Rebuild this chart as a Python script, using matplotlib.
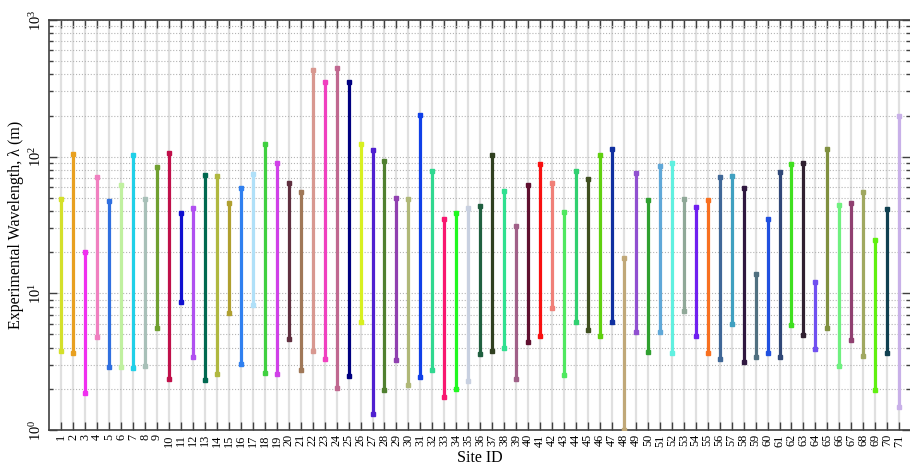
import matplotlib
matplotlib.use('Agg')
import matplotlib.pyplot as plt
from matplotlib.ticker import LogLocator, NullFormatter, FixedLocator

sites = list(range(1, 72))
lam_max = [48.8, 104, 20.0, 71.4, 47.1, 61.7, 103, 49.2, 84, 106,
           38.5, 42.1, 73.1, 72.6, 45.6, 59.0, 74.3, 124, 89.9, 63.8,
           55.1, 431, 354, 448, 350, 124, 111, 92.5, 49.6, 49.0,
           203, 78.9, 35.2, 38.5, 41.9, 43.3, 102, 55.8, 30.9, 61.7,
           87.9, 64.5, 39.2, 78.9, 68.6, 103, 114, 18.1, 75.5, 48.2,
           85.5, 89.9, 49.0, 42.8, 47.9, 71.0, 72.6, 58.7, 13.8, 34.8,
           77.2, 87.9, 89.4, 12.2, 114, 44.3, 45.8, 54.9, 24.7, 41.4, 199]
lam_min = [3.77, 3.68, 1.85, 4.82, 2.88, 2.90, 2.86, 2.96, 5.57, 2.38,
           8.69, 3.40, 2.32, 2.57, 7.18, 3.03, 8.26, 2.63, 2.57, 4.61,
           2.75, 3.77, 3.29, 2.04, 2.48, 6.20, 1.32, 1.95, 3.24, 2.12,
           2.45, 2.75, 1.74, 2.01, 2.28, 3.60, 3.77, 4.00, 2.35, 4.40,
           4.87, 7.81, 2.53, 6.17, 5.42, 4.87, 6.20, 1.0, 5.24, 3.74,
           5.21, 3.64, 7.43, 4.90, 3.64, 3.29, 5.93, 3.13, 3.44, 3.68,
           3.42, 5.84, 4.96, 3.94, 5.61, 2.96, 4.58, 3.50, 1.97, 3.68, 1.47]
colors = ['#d4e02a', '#e8a020', '#f030f0', '#f080c0', '#3070e0', '#c0f0a0', '#20d0e8', '#a8c0b8', '#70a030', '#c0104a',
          '#1010d0', '#b050f0', '#006850', '#b0b840', '#b0a030', '#3080f0', '#b0e0f8', '#40d040', '#d040e8', '#603040',
          '#a07858', '#d89890', '#f040c0', '#c06890', '#000080', '#d8f020', '#5020d0', '#508030', '#9040b0', '#b0b878',
          '#1040e8', '#30d890', '#f81870', '#20f820', '#c8d0e0', '#206040', '#304020', '#30e090', '#a06088', '#601030',
          '#f81010', '#f08078', '#50e860', '#30d070', '#405020', '#60d010', '#1030a0', '#c0a878', '#9050d0', '#30a030',
          '#60a8d8', '#60f0e0', '#90a898', '#7020f0', '#f87020', '#406898', '#40a0c0', '#301840', '#507080', '#2050e0',
          '#304878', '#40e020', '#302030', '#7050f0', '#809040', '#70f080', '#904070', '#a0a860', '#60f010', '#104050',
          '#c8b0e8']

plt.rcParams['font.family'] = ['Liberation Serif', 'DejaVu Serif']
plt.rcParams['mathtext.fontset'] = 'stix'

fig = plt.figure(figsize=(9.1, 4.66), dpi=100)
ax = fig.add_axes([49.3 / 910, 1 - 430 / 466, (910 - 49.3) / 910, 410 / 466])
ax.set_yscale('log')
ax.set_ylim(1, 1000)
ax.set_xlim(0, 71.9)

ax.xaxis.set_major_locator(FixedLocator(sites))
ax.set_xticklabels([str(s) for s in sites])
ax.yaxis.set_major_locator(LogLocator(base=10, numticks=10))
ax.yaxis.set_minor_locator(LogLocator(base=10, subs=range(2, 10), numticks=20))
ax.yaxis.set_minor_formatter(NullFormatter())

ax.grid(axis='x', which='major', color='#e0e0e0', lw=1.6, ls='-', zorder=0)
ax.grid(axis='y', which='both', color='#b4b4b4', lw=0.8, ls=':', zorder=0)
ax.set_axisbelow(True)

for s, lo, hi, c in zip(sites, lam_min, lam_max, colors):
    ax.plot([s, s], [lo, hi], color=c, lw=2.3, marker='s', ms=3.3,
            solid_capstyle='butt', zorder=3)

spine_c = '#404040'
for side in ['left', 'bottom', 'top']:
    ax.spines[side].set_color(spine_c)
    ax.spines[side].set_linewidth(1.2)
ax.spines['right'].set_visible(False)

ax.tick_params(axis='x', which='major', direction='in', length=6, width=1.0,
               top=True, bottom=True, color=spine_c, labelsize=8.8,
               labelrotation=90, pad=3)
ax.tick_params(axis='y', which='major', direction='in', length=6, width=1.0,
               left=True, right=True, color=spine_c, labelsize=10.5,
               labelrotation=90, pad=4)
ax.tick_params(axis='y', which='minor', direction='in', length=3.2, width=1.0,
               left=True, right=True, color=spine_c)
for lbl in ax.get_yticklabels():
    lbl.set_va('center')

ax.set_xlabel('Site ID', fontsize=11.5, labelpad=2.5)
ax.set_ylabel('Experimental Wavelength, λ (m)', fontsize=11.5, labelpad=3)

fig.savefig('out.png', dpi=100)
